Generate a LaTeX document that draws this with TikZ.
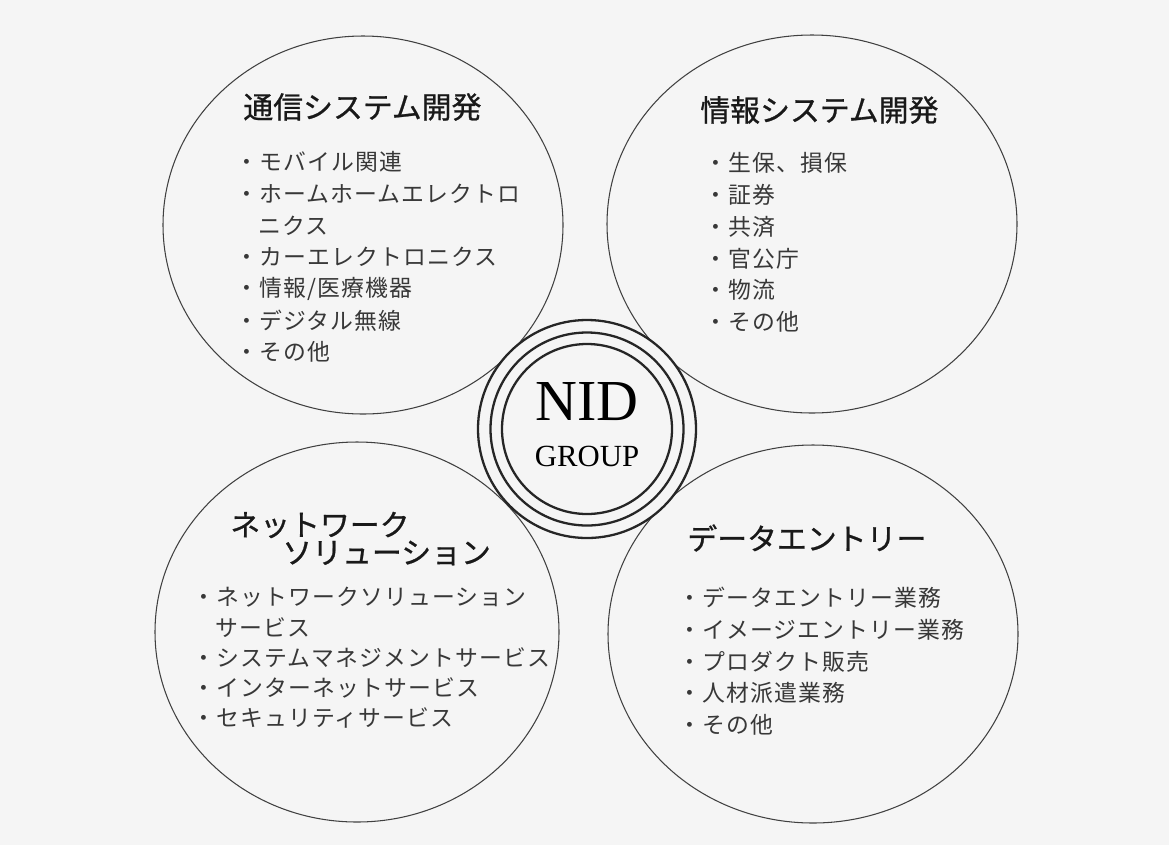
\documentclass[tikz,border=0pt]{standalone}
\usepackage{fontspec}
\setmainfont{Liberation Serif}
\newfontfamily\cjk{Noto Sans CJK JP}[LetterSpace=5]
\newfontfamily\cjkt{Noto Sans CJK JP}[FakeBold=0.8]
\tikzset{
	bereich/.style={draw=black!75, line width=0.6pt},
	ring/.style={draw=black!85, line width=1.3pt},
	titel/.style={anchor=west, inner sep=0pt, text=black!90, font=\cjkt\fontsize{17}{20}\selectfont},
	punkt/.style={anchor=west, inner sep=0pt, text=black!78, font=\cjk\fontsize{13}{16}\selectfont},
}
\begin{document}
\begin{tikzpicture}[x=0.2mm, y=-0.2mm]
	% sfondo
	\fill[black!4] (0,0) rectangle (1169,845);

	% cerchi
	\draw[bereich] (363,225) ellipse [x radius=200, y radius=189];
	\draw[bereich] (812,224) ellipse [x radius=205, y radius=189];
	\draw[bereich] (357,632) ellipse [x radius=202, y radius=190];
	\draw[bereich] (813,634) ellipse [x radius=205, y radius=189];

	% tsushin
	\node[titel] (tsushin) at (243,107) {通信システム開発};
	\foreach \t [count=\i] in {モバイル関連, ホームホームエレクトロ, \hphantom{・}ニクス,
		カーエレクトロニクス, 情報/医療機器, デジタル無線, その他}
		\node[punkt] (tsushin\i) at (235,130.3+31.7*\i) {\ifnum\i=3 \else・\fi\t};

	% joho
	\node[titel] (joho) at (700,110) {情報システム開発};
	\foreach \t [count=\i] in {生保、損保, 証券, 共済, 官公庁, 物流, その他}
		\node[punkt] (joho\i) at (704,131.2+31.8*\i) {・\t};

	% network
	\node[titel] (network) at (230,525) {ネットワーク};
	\node[titel] (solution) at (282,553) {ソリューション};
	\foreach \t [count=\i] in {ネットワークソリューション, \hphantom{・}サービス,
		システムマネジメントサービス, インターネットサービス, セキュリティサービス}
		\node[punkt] (network\i) at (192,566.7+30.3*\i) {\ifnum\i=2 \else・\fi\t};

	% entry
	\node[titel] (entry) at (687,538) {データエントリー};
	\foreach \t [count=\i] in {データエントリー業務, イメージエントリー業務,
		プロダクト販売, 人材派遣業務, その他}
		\node[punkt] (entry\i) at (678,566.3+31.7*\i) {・\t};

	% centro
	\filldraw[ring, fill=black!4] (587,429) circle [radius=109];
	\draw[ring] (587,429) circle [radius=96.5];
	\draw[ring] (587,429) circle [radius=85];
	\node[font=\fontsize{33}{33}\selectfont] (nid) at (587,402) {NID};
	\node[font=\fontsize{17.5}{18}\selectfont] (group) at (587,456) {GROUP};

\end{tikzpicture}
\end{document}
